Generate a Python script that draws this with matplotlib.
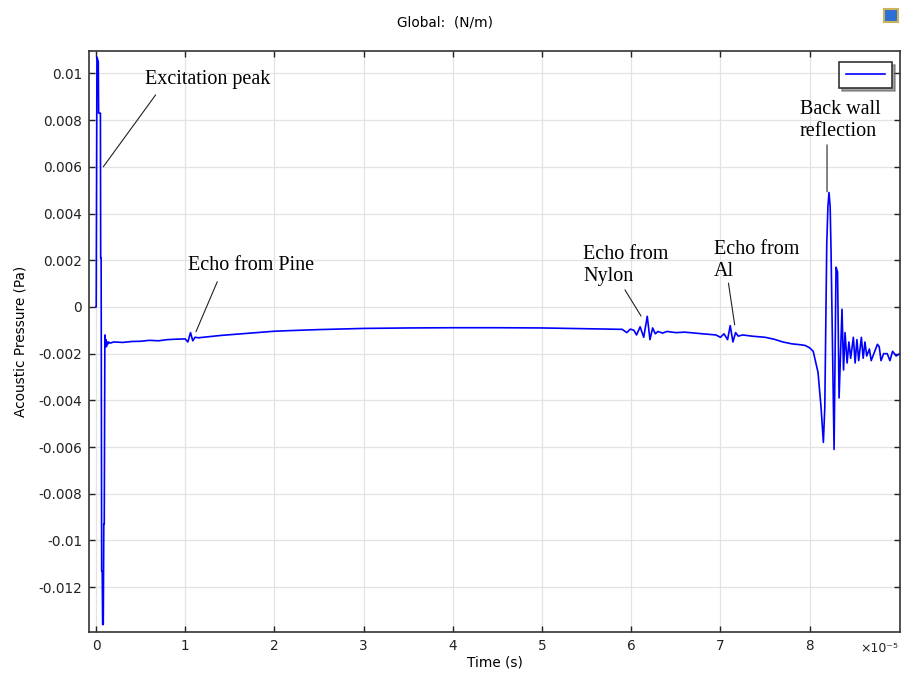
import matplotlib
matplotlib.use("Agg")
import matplotlib.pyplot as plt
from matplotlib.patches import Rectangle

# time axis is in units of 1e-5 s
time_e5 = [
    0.000, 0.003, 0.011, 0.026, 0.030, 0.050, 0.053, 0.058, 0.064, 0.070,
    0.075, 0.082, 0.088, 0.093, 0.100, 0.106, 0.112, 0.118, 0.124, 0.130,
    0.140, 0.160, 0.200, 0.300, 0.400, 0.500, 0.600, 0.700, 0.800, 0.900,
    1.000, 1.030, 1.060, 1.085, 1.110, 1.150, 1.200, 1.400, 1.600, 1.800,
    2.000, 2.200, 2.500, 2.800, 3.000, 3.500, 4.000, 4.500, 5.000, 5.300,
    5.600, 5.900, 5.950, 5.990, 6.030, 6.060, 6.100, 6.140, 6.180, 6.210,
    6.240, 6.270, 6.300, 6.350, 6.400, 6.500, 6.600, 6.800, 6.950, 7.000,
    7.040, 7.080, 7.110, 7.140, 7.170, 7.200, 7.250, 7.350, 7.500, 7.600,
    7.700, 7.800, 7.900, 7.950, 8.000, 8.040, 8.094, 8.128, 8.154, 8.170,
    8.192, 8.205, 8.217, 8.230, 8.240, 8.274, 8.296, 8.313, 8.330, 8.363,
    8.380, 8.397, 8.420, 8.440, 8.460, 8.490, 8.510, 8.530, 8.550, 8.580,
    8.600, 8.620, 8.640, 8.670, 8.690, 8.720, 8.760, 8.780, 8.800, 8.830,
    8.870, 8.900, 8.930, 8.970, 9.010,
]
pressure = [
    0.0, 0.0, 0.0107, 0.0105, 0.0083, 0.0083, 0.0021, 0.0021, -0.0113, -0.0113,
    -0.0136, -0.0136, -0.0093, -0.0093, -0.0012, -0.0017, -0.0014, -0.0017, -0.0015, -0.0016,
    -0.0015, -0.00155, -0.0015, -0.00152, -0.00148, -0.00147, -0.00143, -0.00145, -0.0014, -0.00138,
    -0.00137, -0.0015, -0.0011, -0.00145, -0.0013, -0.00132, -0.0013, -0.00122, -0.00116, -0.0011,
    -0.00104, -0.00101, -0.00097, -0.00094, -0.00092, -0.0009, -0.00089, -0.00089, -0.0009, -0.00092,
    -0.00094, -0.00096, -0.0011, -0.00095, -0.0010, -0.0012, -0.00085, -0.0013, -0.0004, -0.0014,
    -0.0009, -0.00115, -0.00105, -0.00112, -0.00105, -0.0011, -0.00108, -0.00115, -0.0012, -0.0013,
    -0.00115, -0.0014, -0.0008, -0.0015, -0.0011, -0.00125, -0.0012, -0.00125, -0.0013, -0.00138,
    -0.0015, -0.00158, -0.00162, -0.00165, -0.00175, -0.0019, -0.0028, -0.0043, -0.0058, -0.0043,
    0.0027, 0.0043, 0.0049, 0.0043, 0.0024, -0.0061, 0.0017, 0.0015, -0.0039, -0.0001,
    -0.0027, -0.0011, -0.0024, -0.0015, -0.0022, -0.0013, -0.0024, -0.0014, -0.0023, -0.0013,
    -0.0022, -0.0015, -0.0021, -0.0018, -0.0023, -0.0020, -0.0016, -0.0017, -0.0023, -0.0020,
    -0.0020, -0.0023, -0.0019, -0.0021, -0.0020,
]

x_ticks = [0, 1, 2, 3, 4, 5, 6, 7, 8]
y_ticks = [0.01, 0.008, 0.006, 0.004, 0.002, 0, -0.002, -0.004, -0.006, -0.008, -0.01, -0.012]
y_tick_labels = ["0.01", "0.008", "0.006", "0.004", "0.002", "0", "-0.002", "-0.004",
                 "-0.006", "-0.008", "-0.01", "-0.012"]

# label text, text anchor (left, centre) and leader line end points
notes = [
    ("Excitation peak", (0.549, 0.00972), (0.669, 0.00908), (0.082, 0.0060)),
    ("Echo from Pine", (1.031, 0.00176), (1.36, 0.00108), (1.121, -0.00106)),
    ("Echo from\nNylon", (5.46, 0.00176), (5.93, 0.00073), (6.11, -0.00039)),
    ("Echo from\nAl", (6.93, 0.0020), (7.09, 0.00102), (7.16, -0.00077)),
    ("Back wall\nreflection", (7.89, 0.0080), (8.195, 0.00694), (8.195, 0.00493)),
]

fig = plt.figure(figsize=(9.02, 6.73), dpi=100)
ax = fig.add_axes([89 / 902, 1 - 632 / 673, 811 / 902, 581 / 673])

line, = ax.plot(time_e5, pressure, color="#0000ff", lw=1.2)

ax.set_xlim(-0.078, 9.013)
ax.set_ylim(-0.01392, 0.01096)
ax.set_xticks(x_ticks)
ax.set_yticks(y_ticks)
ax.set_yticklabels(y_tick_labels)
ax.tick_params(direction="in", length=4, width=1, top=True, right=True,
               labelsize=9.8, colors="#222222", pad=5)
ax.grid(True, color="#e3e3e3", lw=0.9)
for side in ["left", "bottom", "top", "right"]:
    ax.spines[side].set_color("#333333")
    ax.spines[side].set_linewidth(1.2)

ax.set_xlabel("Time (s)", fontsize=9.8, labelpad=2)
ax.set_ylabel("Acoustic Pressure (Pa)", fontsize=9.8, labelpad=8)
fig.text(860 / 902, 1 - 648 / 673, "×10⁻⁵", fontsize=9, va="center", ha="left",
         color="#222222")
fig.text(445 / 902, 1 - 22 / 673, "Global:  (N/m)", fontsize=9.8, ha="center", va="center")

for text, pos, start, end in notes:
    ax.text(pos[0], pos[1], text, fontsize=14.5, family="Liberation Serif",
            ha="left", va="center", linespacing=1.2)
    ax.annotate("", xy=end, xytext=start,
                arrowprops=dict(arrowstyle="-", color="#222222", lw=0.8,
                                shrinkA=0, shrinkB=0))

leg = ax.legend([line], [""], loc="upper right", fancybox=False, shadow=True,
                edgecolor="#333333", framealpha=1, handlelength=3.0,
                handletextpad=0, borderpad=0.5, borderaxespad=0, fontsize=9.5,
                bbox_to_anchor=(803 / 811, 570 / 581))
leg.get_frame().set_linewidth(1.2)

# small toolbar icon in the corner
fig.patches.append(Rectangle((884 / 902, 1 - 22 / 673), 14 / 902, 13 / 673,
                             transform=fig.transFigure, facecolor="#2c6fd6",
                             edgecolor="#c9b25a", lw=1.5))

fig.savefig("out.png", dpi=100)
